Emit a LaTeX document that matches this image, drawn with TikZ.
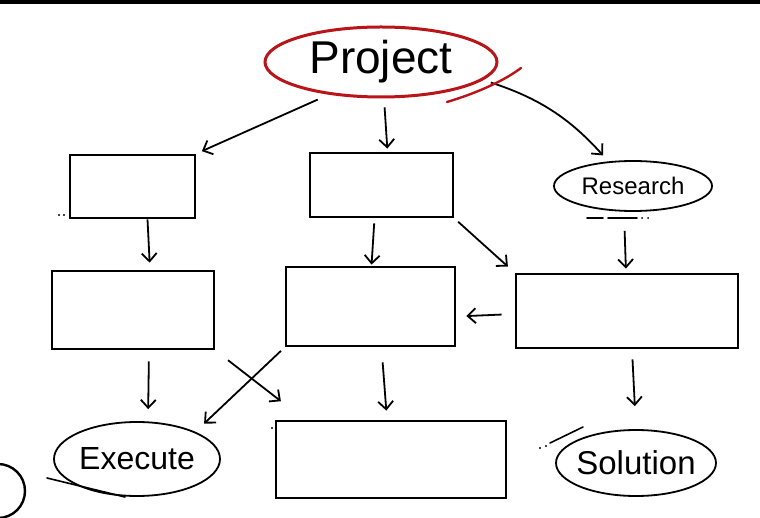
\documentclass[tikz,border=0pt]{standalone}
\usepackage{fontspec}
\setmainfont{Liberation Sans}
\usetikzlibrary{arrows.meta,shapes.geometric}
\definecolor{rojo}{RGB}{185,20,25}
\tikzset{
  caja/.style={draw, line width=2.8pt, inner sep=0pt},
  globo/.style={ellipse, draw, line width=1.8pt, inner sep=-8pt},
  flecha/.style={-{Straight Barb[length=8pt,width=15pt]}, line width=1.8pt},
  trazo/.style={line width=1.6pt, line cap=round}
}
\begin{document}
\begin{tikzpicture}[x=1pt,y=-1pt]
    \useasboundingbox (0,0) rectangle (760,518);
    \fill (0,0) rectangle (760,4);
    % Globos
    \node[globo, draw=rojo, line width=3pt, minimum width=232pt, minimum height=70pt] (proj) at (381,62)
        {\fontsize{46}{46}\selectfont Project};
    \node[globo, minimum width=158pt, minimum height=50pt] (res) at (633,186)
        {\fontsize{24}{24}\selectfont Research};
    \node[globo, minimum width=166pt, minimum height=74pt] (ex) at (137,459)
        {\fontsize{32}{32}\selectfont Execute};
    \node[globo, minimum width=160pt, minimum height=66pt] (sol) at (636,463)
        {\fontsize{33}{33}\selectfont Solution};
    % Cajas
    \node[caja, minimum width=125pt, minimum height=63pt] (c1) at (132.5,186.5) {};
    \node[caja, minimum width=143pt, minimum height=64pt] (c2) at (381.5,185) {};
    \node[caja, minimum width=162pt, minimum height=78pt] (c3) at (133,310) {};
    \node[caja, minimum width=169pt, minimum height=79pt] (c4) at (370.5,306.5) {};
    \node[caja, minimum width=222pt, minimum height=74pt] (c5) at (627,311) {};
    \node[caja, minimum width=230pt, minimum height=77pt] (c6) at (391,459.5) {};
    % Flechas
    \draw[flecha, shorten <=12pt, shorten >=6pt] (proj.212) -- (c1.north east);
    \draw[flecha, shorten <=9pt, shorten >=3pt] ([xshift=3pt]proj.south) -- ([xshift=6pt]c2.north);
    \draw[flecha, shorten <=8pt, shorten >=8pt] (proj.-10) to[bend left=15] (res.135);
    \draw[flecha, shorten >=7pt] ([xshift=15pt]c1.south) -- ([xshift=17pt]c3.north);
    \draw[flecha, shorten <=5pt, shorten >=1pt] ([xshift=-7pt]c2.south) -- ([xshift=1pt]c4.north);
    \draw[flecha, shorten <=5pt, shorten >=9pt] (c2.south east) -- (c5.north west);
    \draw[flecha, shorten <=19pt, shorten >=4pt] ([xshift=-9pt]res.south) -- ([xshift=-1pt]c5.north);
    \draw[flecha, shorten <=13pt, shorten >=10pt] ([yshift=-3pt]c5.west) -- ([yshift=-10pt]c4.east);
    \draw[flecha, shorten <=11pt, shorten >=12pt] ([xshift=16pt]c3.south) -- ([xshift=11pt]ex.north);
    \draw[flecha, shorten <=5pt, shorten >=12pt] (c4.south west) -- (ex.25);
    \draw[flecha, shorten <=16pt, shorten >=30pt] (c3.south east) -- ([xshift=30pt]c6.north west);
    \draw[flecha, shorten <=15pt, shorten >=9pt] ([xshift=11pt]c4.south) -- ([xshift=-4pt]c6.north);
    \draw[flecha, shorten <=10pt, shorten >=23pt] ([xshift=5pt]c5.south) -- (sol.north);
    % Trazos sueltos
    \draw[trazo, rojo, line width=2.4pt] (447,102) .. controls (480,92) and (505,80) .. (521,68);
    \draw[trazo] (47,478) -- (125,497);
    \draw[trazo] (550,443) -- (583,427);
    \draw[trazo] (587,218) -- (603,218) (608,218) -- (637,218);
    \fill (642,218) circle (1pt) (648,218) circle (1pt);
    \fill (540,448) circle (1.2pt) (546,446) circle (1.2pt);
    \fill (59,215) circle (1.2pt) (64,215) circle (1.2pt);
    \fill (272,428) circle (1.2pt);
    \draw[line width=2.4pt] (-2,491) circle (27pt);
\end{tikzpicture}
\end{document}
